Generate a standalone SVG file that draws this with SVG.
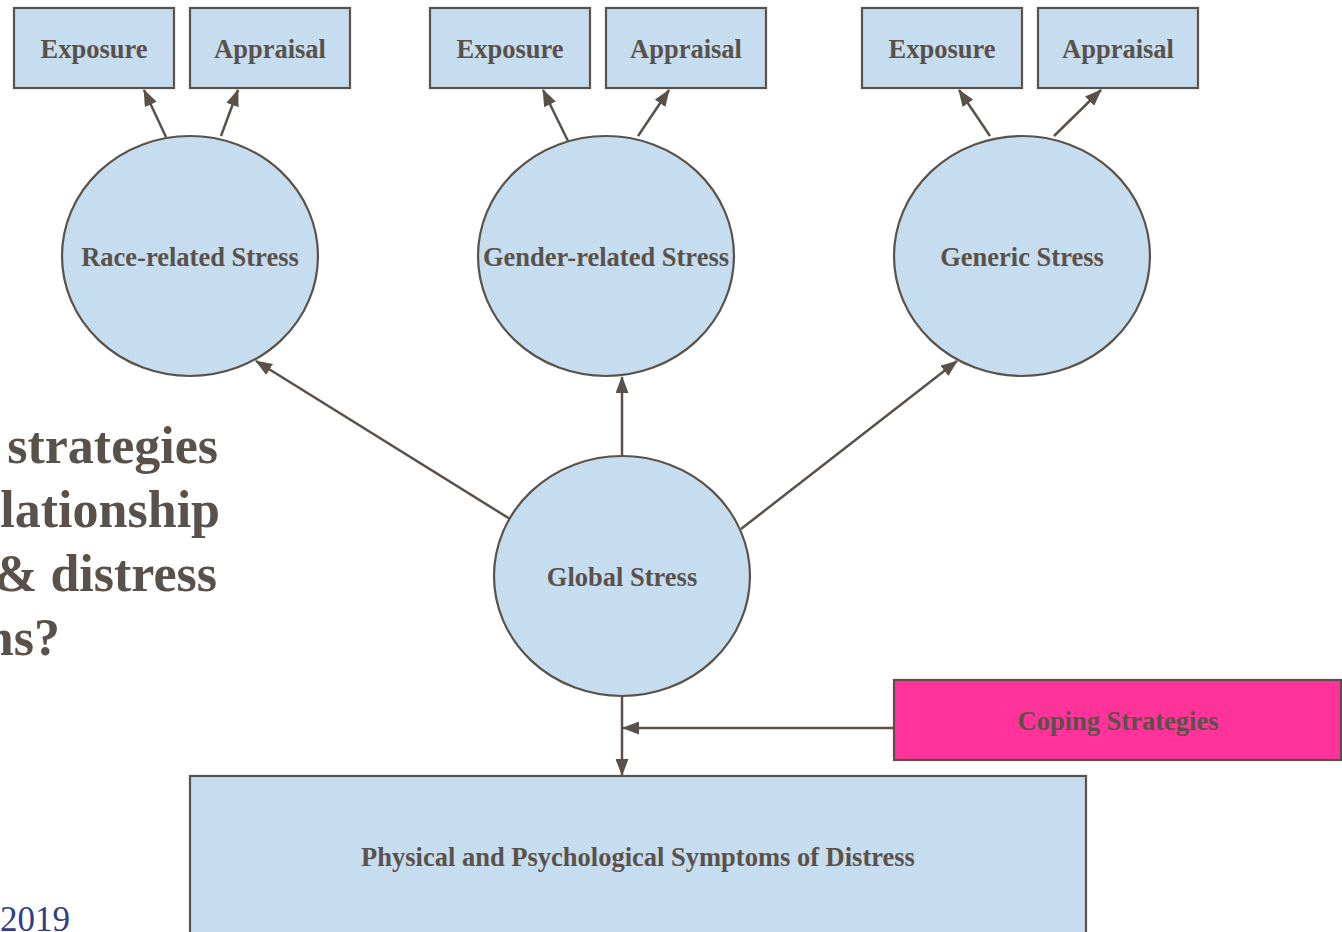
<svg xmlns="http://www.w3.org/2000/svg" width="1342" height="932" viewBox="0 0 1342 932">
  <defs>
    <marker id="arrow" viewBox="0 0 17 13" refX="16" refY="6.5" markerWidth="17" markerHeight="13" markerUnits="userSpaceOnUse" orient="auto">
      <path d="M0,0 L17,6.5 L0,13 Z" fill="#5A524A"/>
    </marker>
    <style>
      .box { fill: #C6DCEF; stroke: #5A524A; stroke-width: 2.2; }
      .pink { fill: #FF3399; stroke: #5A524A; stroke-width: 2.2; }
      .lbl { font-family: "Liberation Serif", "Times New Roman", serif; font-weight: bold; font-size: 26.5px; fill: #5A524A; text-anchor: middle; dominant-baseline: central; }
      .edge { stroke: #5A524A; stroke-width: 2.5; fill: none; marker-end: url(#arrow); }
      .big { font-family: "Liberation Serif", "Times New Roman", serif; font-weight: bold; font-size: 52px; fill: #5A524A; text-anchor: end; }
      .year { font-family: "Liberation Serif", "Times New Roman", serif; font-size: 35px; fill: #2E3F82; text-anchor: end; }
    </style>
  </defs>
  <rect width="1342" height="932" fill="#FFFFFF"/>

  <!-- slide text behind the diagram -->
  <text class="big" x="218" y="463">strategies</text>
  <text class="big" x="220" y="527">lationship</text>
  <text class="big" x="217" y="591">&amp; distress</text>
  <text class="big" x="60" y="655">ns?</text>
  <text class="year" x="70" y="931">2019</text>

  <g id="connectors">
    <line class="edge" x1="166" y1="137" x2="144" y2="90"/>
    <line class="edge" x1="221" y1="136" x2="238" y2="90"/>
    <line class="edge" x1="568" y1="141" x2="543" y2="90"/>
    <line class="edge" x1="638" y1="136" x2="669" y2="90"/>
    <line class="edge" x1="990" y1="136" x2="959" y2="90"/>
    <line class="edge" x1="1054" y1="136" x2="1101" y2="90"/>
    <line class="edge" x1="510" y1="519" x2="256" y2="361"/>
    <line class="edge" x1="622" y1="456" x2="622" y2="377"/>
    <line class="edge" x1="741" y1="529" x2="957" y2="361"/>
    <line class="edge" x1="622" y1="696" x2="622" y2="775"/>
    <line class="edge" x1="894" y1="728" x2="623" y2="728"/>
  </g>

  <g id="race-exposure"><rect class="box" x="14" y="8" width="160" height="80"/><text class="lbl" x="94" y="49">Exposure</text></g>
  <g id="race-appraisal"><rect class="box" x="190" y="8" width="160" height="80"/><text class="lbl" x="270" y="49">Appraisal</text></g>
  <g id="gender-exposure"><rect class="box" x="430" y="8" width="160" height="80"/><text class="lbl" x="510" y="49">Exposure</text></g>
  <g id="gender-appraisal"><rect class="box" x="606" y="8" width="160" height="80"/><text class="lbl" x="686" y="49">Appraisal</text></g>
  <g id="generic-exposure"><rect class="box" x="862" y="8" width="160" height="80"/><text class="lbl" x="942" y="49">Exposure</text></g>
  <g id="generic-appraisal"><rect class="box" x="1038" y="8" width="160" height="80"/><text class="lbl" x="1118" y="49">Appraisal</text></g>

  <g id="race-stress"><ellipse class="box" cx="190" cy="256" rx="128" ry="120"/><text class="lbl" x="190" y="257">Race-related Stress</text></g>
  <g id="gender-stress"><ellipse class="box" cx="606" cy="256" rx="128" ry="120"/><text class="lbl" x="606" y="257">Gender-related Stress</text></g>
  <g id="generic-stress"><ellipse class="box" cx="1022" cy="256" rx="128" ry="120"/><text class="lbl" x="1022" y="257">Generic Stress</text></g>
  <g id="global-stress"><ellipse class="box" cx="622" cy="576" rx="128" ry="120"/><text class="lbl" x="622" y="577">Global Stress</text></g>

  <g id="coping"><rect class="pink" x="894" y="680" width="447" height="80"/><text class="lbl" x="1118" y="721">Coping Strategies</text></g>
  <g id="distress"><rect class="box" x="190" y="776" width="896" height="170"/><text class="lbl" x="638" y="857">Physical and Psychological Symptoms of Distress</text></g>
</svg>
